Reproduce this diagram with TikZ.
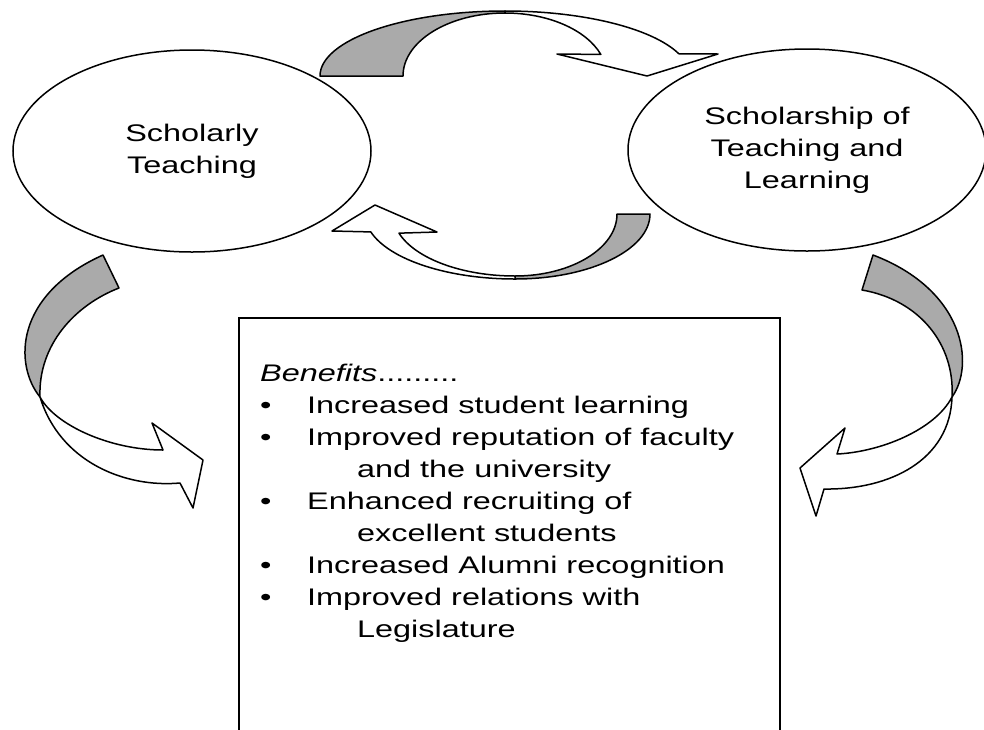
\documentclass[tikz,border=0pt]{standalone}
\usepackage{fontspec}
\setmainfont{Liberation Sans}[FakeStretch=1.35]
\usetikzlibrary{shapes.geometric,positioning}

\definecolor{bandgray}{RGB}{170,170,170}
\newcommand{\bulletline}[1]{\makebox[47pt][l]{•}#1}
\newcommand{\wrapline}[1]{\hspace*{97pt}#1}

\begin{document}
\begin{tikzpicture}[x=1pt, y=-1pt,
    bubble/.style={ellipse, draw, line width=1.5pt, inner sep=0pt, align=center,
      minimum width=358pt, minimum height=202pt},
    backband/.style={draw, line width=1.5pt, line join=round, fill=bandgray},
    frontband/.style={draw, line width=1.5pt, line join=round, fill=white},
    font=\fontsize{24}{32}\selectfont]
  \useasboundingbox (0,0) rectangle (984,729);
  \clip (0,0) rectangle (984,729);

  % the two kinds of teaching
  \node[bubble] (scholarly) at (192,151) {Scholarly\\Teaching};
  \node[bubble] (sotl) at (807,150) {Scholarship of\\Teaching and\\Learning};

  % benefits box, open at the bottom edge
  \node[draw, line width=1.5pt, anchor=north west, inner sep=0pt,
    minimum width=541pt, minimum height=440pt] (box) at (238,317) {};
  \node[below right=47pt and 22pt of box.north west, inner sep=0pt, align=left] (list) {%
    \textit{Benefits}.........\\
    \bulletline{Increased student learning}\\
    \bulletline{Improved reputation of faculty}\\
    \wrapline{and the university}\\
    \bulletline{Enhanced recruiting of}\\
    \wrapline{excellent students}\\
    \bulletline{Increased Alumni recognition}\\
    \bulletline{Improved relations with}\\
    \wrapline{Legislature}};

  % curved arrow over the top
  \coordinate (topc) at (505,76);
  \draw[backband] ([shift={(180:185 and 65)}]topc)
    arc[start angle=180, end angle=270, x radius=185, y radius=65]
    -- ([shift={(270:102 and 63)}]topc)
    arc[start angle=270, end angle=180, x radius=102, y radius=63] -- cycle;
  \draw[frontband] ([shift={(270:185 and 65)}]topc)
    arc[start angle=270, end angle=340, x radius=185, y radius=65]
    -- (718,54) -- (647,76) -- (557,54)
    -- ([shift={(340:102 and 63)}]topc)
    arc[start angle=340, end angle=270, x radius=102, y radius=63] -- cycle;

  % curved arrow underneath, back to the left
  \coordinate (botc) at (515,214);
  \draw[backband] ([shift={(0:135 and 65)}]botc)
    arc[start angle=0, end angle=90, x radius=135, y radius=65]
    -- ([shift={(90:102 and 62)}]botc)
    arc[start angle=90, end angle=0, x radius=102, y radius=62] -- cycle;
  \draw[frontband] ([shift={(90:150 and 65)}]botc)
    arc[start angle=90, end angle=164, x radius=150, y radius=65]
    -- (332,231) -- (375,205) -- (437,232)
    -- ([shift={(162:122 and 62)}]botc)
    arc[start angle=162, end angle=90, x radius=122, y radius=62] -- cycle;

  % left arrow into the box
  \draw[backband] (103,255) -- (119,288) .. controls (75,305) and (38,345) .. (40,397)
    .. controls (14,365) and (14,295) .. (103,255) -- cycle;
  \draw[frontband] (40,397) .. controls (55,425) and (110,450) .. (163,450)
    -- (152,423) -- (203,460) -- (193,508) -- (180,483)
    .. controls (125,488) and (60,462) .. (40,397) -- cycle;

  % right arrow into the box
  \draw[backband] (873,255) -- (862,290) .. controls (920,300) and (955,345) .. (952,397)
    .. controls (975,365) and (965,290) .. (873,255) -- cycle;
  \draw[frontband] (952,397) .. controls (935,430) and (880,452) .. (837,454)
    -- (845,428) -- (800,468) -- (816,516) -- (824,489)
    .. controls (890,490) and (950,460) .. (952,397) -- cycle;
\end{tikzpicture}
\end{document}
